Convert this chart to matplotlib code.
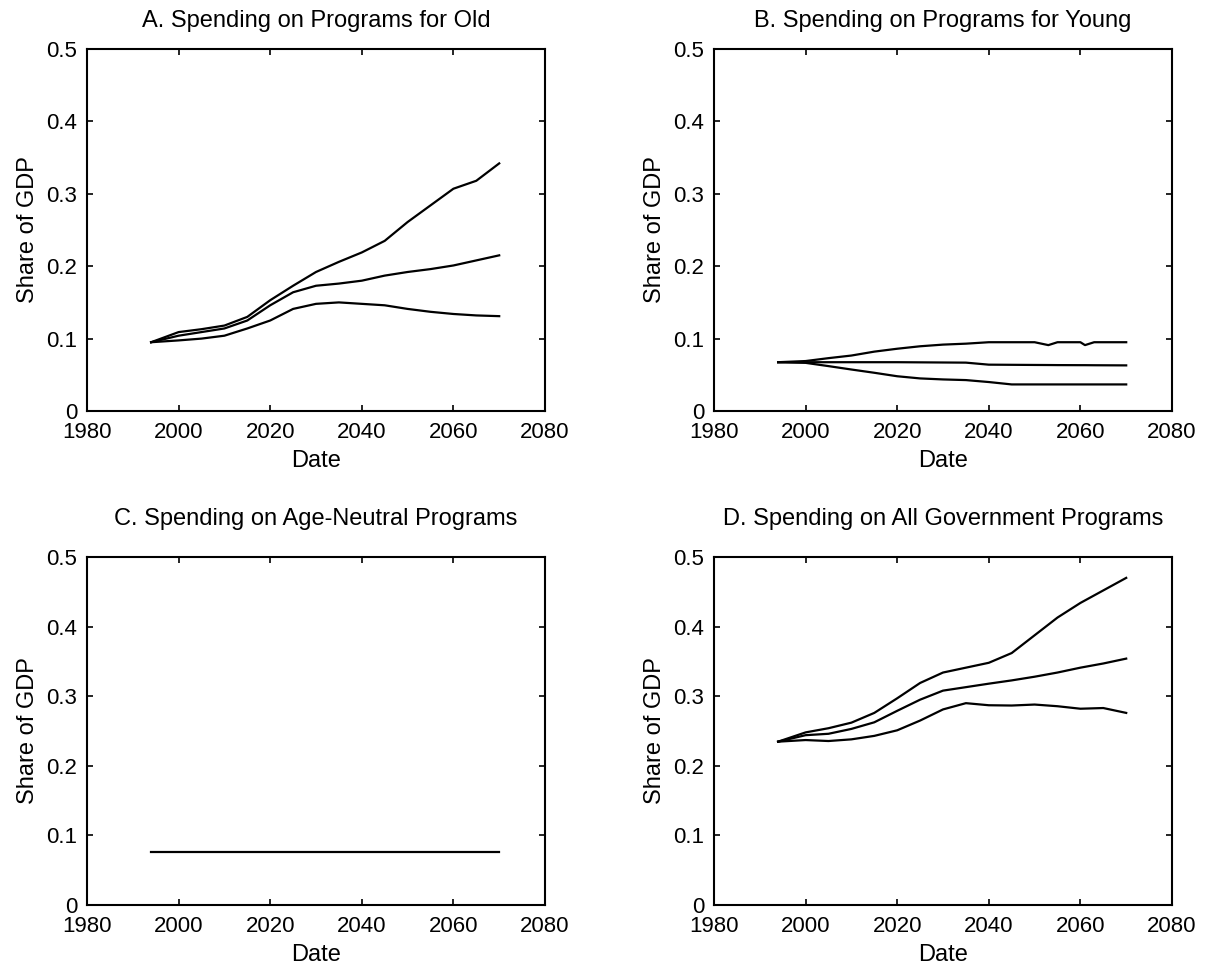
import matplotlib
matplotlib.use("Agg")
import matplotlib.pyplot as plt

plt.rcParams['font.family'] = ['Liberation Sans', 'DejaVu Sans']

# ---- data ----
years_old = [1994, 2000, 2005, 2010, 2015, 2020, 2025, 2030, 2035, 2040, 2045, 2050, 2055, 2060, 2065, 2070]
old_high = [0.095, 0.109, 0.113, 0.118, 0.130, 0.153, 0.173, 0.192, 0.206, 0.219, 0.235, 0.261, 0.284, 0.307, 0.318, 0.342]
old_mid = [0.095, 0.104, 0.109, 0.114, 0.125, 0.146, 0.164, 0.173, 0.176, 0.180, 0.187, 0.192, 0.196, 0.201, 0.208, 0.215]
old_low = [0.095, 0.0975, 0.100, 0.104, 0.114, 0.125, 0.141, 0.148, 0.150, 0.148, 0.146, 0.141, 0.137, 0.134, 0.132, 0.131]

years_young = [1994, 2000, 2005, 2010, 2015, 2020, 2025, 2030, 2035, 2040, 2045, 2050, 2053, 2055, 2060, 2061, 2063, 2070]
young_high = [0.0674, 0.069, 0.073, 0.0766, 0.082, 0.086, 0.0894, 0.0917, 0.093, 0.095, 0.095, 0.095, 0.091, 0.095, 0.095, 0.091, 0.095, 0.095]
young_mid = [0.0674, 0.0674, 0.0674, 0.0674, 0.0674, 0.0674, 0.0672, 0.0670, 0.0668, 0.064, 0.0638, 0.0636, 0.0635, 0.0634, 0.0633, 0.0633, 0.0632, 0.063]
young_low = [0.0674, 0.0665, 0.062, 0.0573, 0.0528, 0.048, 0.045, 0.0436, 0.0427, 0.040, 0.0367, 0.0367, 0.0367, 0.0367, 0.0367, 0.0367, 0.0367, 0.0367]

years_neutral = [1994, 2070]
neutral = [0.076, 0.076]

years_all = [1994, 2000, 2005, 2010, 2015, 2020, 2025, 2030, 2035, 2040, 2045, 2050, 2055, 2060, 2065, 2070]
all_high = [0.2347, 0.248, 0.254, 0.262, 0.276, 0.297, 0.319, 0.334, 0.341, 0.348, 0.362, 0.3875, 0.413, 0.434, 0.452, 0.470]
all_mid = [0.2347, 0.244, 0.246, 0.253, 0.2625, 0.279, 0.295, 0.308, 0.313, 0.318, 0.3227, 0.328, 0.334, 0.341, 0.347, 0.354]
all_low = [0.2347, 0.237, 0.2356, 0.238, 0.243, 0.251, 0.265, 0.281, 0.290, 0.287, 0.2866, 0.288, 0.2856, 0.282, 0.283, 0.276]

titles = ["A. Spending on Programs for Old",
          "B. Spending on Programs for Young",
          "C. Spending on Age-Neutral Programs",
          "D. Spending on All Government Programs"]
xticks = [1980, 2000, 2020, 2040, 2060, 2080]
yticks = [0, 0.1, 0.2, 0.3, 0.4, 0.5]
ytick_labels = ["0", "0.1", "0.2", "0.3", "0.4", "0.5"]

W, H = 1205, 971
fig = plt.figure(figsize=(W / 100, H / 100), dpi=100)

boxes = [(87, 49, 545, 411), (714, 49, 1172, 411),
         (87, 557, 545, 905), (714, 557, 1172, 905)]
title_pads = [16, 16, 23, 23]

panels = [
    (years_old, [old_high, old_mid, old_low]),
    (years_young, [young_high, young_mid, young_low]),
    (years_neutral, [neutral]),
    (years_all, [all_high, all_mid, all_low]),
]

TFS = 16
LFS = 17
for (x0, y0, x1, y1), title, tpad, (yrs, series) in zip(boxes, titles, title_pads, panels):
    ax = fig.add_axes([x0 / W, 1 - y1 / H, (x1 - x0) / W, (y1 - y0) / H])
    for s in series:
        ax.plot(yrs, s, color='black', lw=1.6)
    ax.set_xlim(1980, 2080)
    ax.set_ylim(0, 0.5)
    ax.set_xticks(xticks)
    ax.set_xticklabels([str(t) for t in xticks], fontsize=TFS)
    ax.set_yticks(yticks)
    ax.set_yticklabels(ytick_labels, fontsize=TFS)
    ax.tick_params(axis='both', direction='in', length=4, width=1.2, top=True, right=True)
    ax.tick_params(axis='x', pad=8)
    ax.tick_params(axis='y', pad=7)
    for sp in ax.spines.values():
        sp.set_linewidth(1.5)
    ax.set_title(title, fontsize=LFS, pad=tpad)
    ax.set_xlabel("Date", fontsize=LFS, labelpad=5)
    ax.set_ylabel("Share of GDP", fontsize=LFS, labelpad=5)

fig.savefig("out.png", dpi=100, facecolor='white')
